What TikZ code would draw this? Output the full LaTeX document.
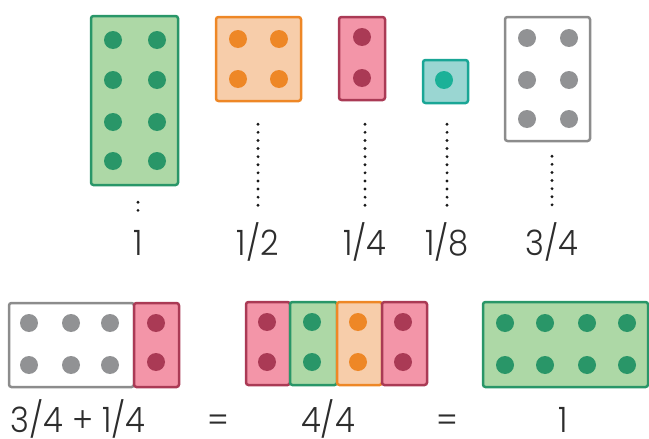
\documentclass[tikz,border=0pt]{standalone}
\usepackage{fontspec}
\setmainfont{Poppins}[UprightFont=* Light, FakeStretch=0.92]
\usetikzlibrary{calc}
\definecolor{fracInk}{RGB}{45,45,45}
\definecolor{greenFill}{RGB}{173,216,166}
\definecolor{greenEdge}{RGB}{41,150,104}
\definecolor{orangeFill}{RGB}{247,205,170}
\definecolor{orangeEdge}{RGB}{238,135,38}
\definecolor{pinkFill}{RGB}{243,149,168}
\definecolor{pinkEdge}{RGB}{170,58,85}
\definecolor{tealFill}{RGB}{154,214,210}
\definecolor{tealEdge}{RGB}{26,166,150}
\definecolor{tealPip}{RGB}{27,177,152}
\definecolor{grayEdge}{RGB}{140,140,140}
\definecolor{grayPip}{RGB}{145,146,148}
\tikzset{
  % a block; the colour comes from one of the *tile styles below
  tile/.style={
    draw, rounded corners=2.5pt, line width=2.5pt, inner sep=0pt
  },
  greentile/.style={tile, fill=greenFill, draw=greenEdge},
  orangetile/.style={tile, fill=orangeFill, draw=orangeEdge},
  pinktile/.style={tile, fill=pinkFill, draw=pinkEdge},
  tealtile/.style={tile, fill=tealFill, draw=tealEdge},
  graytile/.style={tile, fill=white, draw=grayEdge},
  % the dotted leader from a block down to its fraction
  leader/.style={draw=black!90, line width=3.2pt, line cap=round,
                 dash pattern=on 0pt off 8.1pt},
  % fraction labels
  frac/.style={font=\fontsize{35}{40}\selectfont, text=fracInk,
               inner sep=0pt, text height=25pt, text depth=0pt, anchor=base},
}
\begin{document}
\begin{tikzpicture}[x=1pt, y=-1pt]
\useasboundingbox (0,0) rectangle (649,439);

\def\pr{9pt}   % pip radius

% ------------------------------- top row: blocks ----------------------------
\node[greentile, minimum width=87pt, minimum height=169pt] (one) at (134.5,100.5) {};
\node[orangetile, minimum width=85pt, minimum height=84pt] (half) at (258.5,59) {};
\node[pinktile, minimum width=46pt, minimum height=83pt] (quarter) at (362,58.5) {};
\node[tealtile, minimum width=45pt, minimum height=43pt] (eighth) at (445.5,81.5) {};
\node[graytile, minimum width=85pt, minimum height=124pt] (threeq) at (547.5,79) {};

\foreach \x/\y in {113/40, 157/40, 113/80, 157/80, 113/122, 157/122, 113/161, 157/161}
  \fill[greenEdge] (\x,\y) circle (\pr);
\foreach \x/\y in {238/39, 279/39, 238/79, 279/79}
  \fill[orangeEdge] (\x,\y) circle (\pr);
\foreach \y in {37, 78}
  \fill[pinkEdge] (362,\y) circle (\pr);
\fill[tealPip] (444,80) circle (\pr);
\foreach \x/\y in {527/38, 569/38, 527/80, 569/80, 527/119, 569/119}
  \fill[grayPip] (\x,\y) circle (\pr);

% ------------------------------- top row: fractions -------------------------
\node[frac] (fone) at (138,255) {1};
\node[frac] (fhalf) at (258,255) {1/2};
\node[frac] (fquarter) at (365,255) {1/4};
\node[frac] (feighth) at (447,255) {1/8};
\node[frac] (fthreeq) at (552,255) {3/4};

\draw[leader] ([yshift=-16pt]one.south -| fone) -- ([yshift=18pt]fone.north);
\draw[leader] ([yshift=-22pt]half.south -| fhalf) -- ([yshift=18pt]fhalf.north);
\draw[leader] ([yshift=-23pt]quarter.south -| fquarter) -- ([yshift=18pt]fquarter.north);
\draw[leader] ([yshift=-20pt]eighth.south -| feighth) -- ([yshift=18pt]feighth.north);
\draw[leader] ([yshift=-14pt]threeq.south -| fthreeq) -- ([yshift=18pt]fthreeq.north);

% ------------------------------- bottom row: 3/4 + 1/4 ----------------------
\node[graytile, minimum width=125pt, minimum height=84pt] (sumthree) at (71.5,345) {};
\node[pinktile, minimum width=45pt, minimum height=84pt] (sumone) at (156.5,345) {};
\foreach \x/\y in {29/323, 71/323, 110/323, 29/365, 71/365, 110/365}
  \fill[grayPip] (\x,\y) circle (\pr);
\foreach \y in {323, 362}
  \fill[pinkEdge] (156,\y) circle (\pr);

% ------------------------------- bottom row: 4/4 ----------------------------
\node[pinktile, minimum width=44pt, minimum height=83pt] (qa) at (268,343.5) {};
\node[greentile, minimum width=47pt, minimum height=83pt] (qb) at (313.5,343.5) {};
\node[orangetile, minimum width=45pt, minimum height=83pt] (qc) at (359.5,343.5) {};
\node[pinktile, minimum width=45pt, minimum height=83pt] (qd) at (404.5,343.5) {};
\foreach \y in {322, 362} {
  \fill[pinkEdge] (267,\y) circle (\pr);
  \fill[greenEdge] (312,\y) circle (\pr);
  \fill[orangeEdge] (358,\y) circle (\pr);
  \fill[pinkEdge] (403,\y) circle (\pr);
}

% ------------------------------- bottom row: 1 ------------------------------
\node[greentile, minimum width=165pt, minimum height=85pt] (whole) at (565.5,344.5) {};
\foreach \x in {505, 545, 587, 627}
  \foreach \y in {323, 365}
    \fill[greenEdge] (\x,\y) circle (\pr);

% ------------------------------- bottom row: equation -----------------------
\node[frac] (eqsum) at (78,432) {3/4 + 1/4};
\node[frac] (eqa) at (218,432) {=};
\node[frac] (eqfour) at (328,432) {4/4};
\node[frac] (eqb) at (447,432) {=};
\node[frac] (eqone) at (563,432) {1};

\end{tikzpicture}
\end{document}
